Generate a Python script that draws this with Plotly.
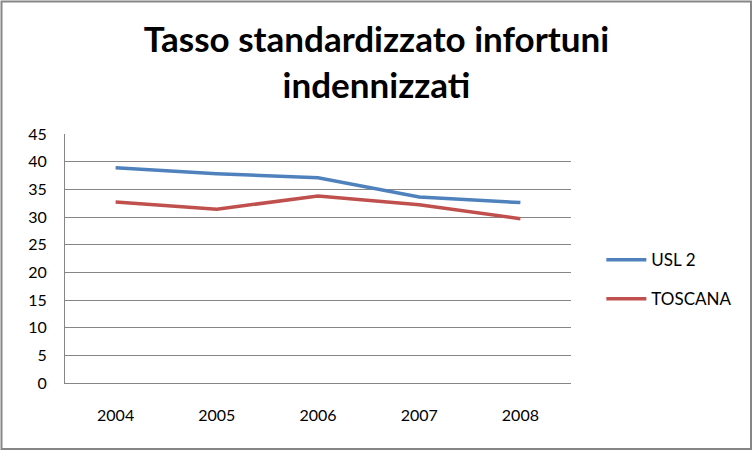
import plotly.graph_objects as go

years = ["2004", "2005", "2006", "2007", "2008"]
usl2 = [38.9, 37.8, 37.1, 33.6, 32.6]
toscana = [32.7, 31.4, 33.8, 32.2, 29.7]
title_text = "Tasso standardizzato infortuni<br>indennizzati"

FONT = "Lato, Carlito, Calibri, sans-serif"

fig = go.Figure()
fig.add_trace(go.Scatter(x=years, y=usl2, mode="lines", name="USL 2", legendgroup="a",
                         line=dict(color="#4F81BD", width=3.5)))
fig.add_trace(go.Scatter(x=years, y=toscana, mode="lines", name="TOSCANA", legendgroup="b",
                         line=dict(color="#C0504D", width=3.5)))

fig.update_layout(
    width=753, height=451,
    margin=dict(l=65, r=182, t=134, b=68),
    paper_bgcolor="white", plot_bgcolor="white",
    font=dict(family=FONT, size=16, color="black"),
    title=dict(text="<b>" + title_text + "</b>", x=0.5, xanchor="center",
               y=0.884, yanchor="middle", font=dict(size=35, family=FONT)),
    legend=dict(x=1.06, y=0.415, xanchor="left", yanchor="middle",
                font=dict(size=17), tracegroupgap=14, itemwidth=40),
    xaxis=dict(type="category", range=[-0.5, 4.5], showgrid=False,
               showline=True, linecolor="#868686", linewidth=1,
               ticks="", tickfont=dict(size=16), ticklabelstandoff=18),
    yaxis=dict(range=[0, 45], dtick=5, showgrid=True, gridcolor="#868686",
               gridwidth=1, showline=True, linecolor="#868686", linewidth=1,
               ticks="", zeroline=False, tickfont=dict(size=16), ticklabelstandoff=14),
)
fig.add_shape(type="rect", xref="paper", yref="paper",
              x0=-63.5/506, x1=(751-65)/506, y0=-66/249, y1=(383-1.5)/249,
              line=dict(color="#868686", width=2), fillcolor="rgba(0,0,0,0)")
fig.write_html("out.html", config={"displayModeBar": False},
               post_script="document.body.style.margin='0px';")
